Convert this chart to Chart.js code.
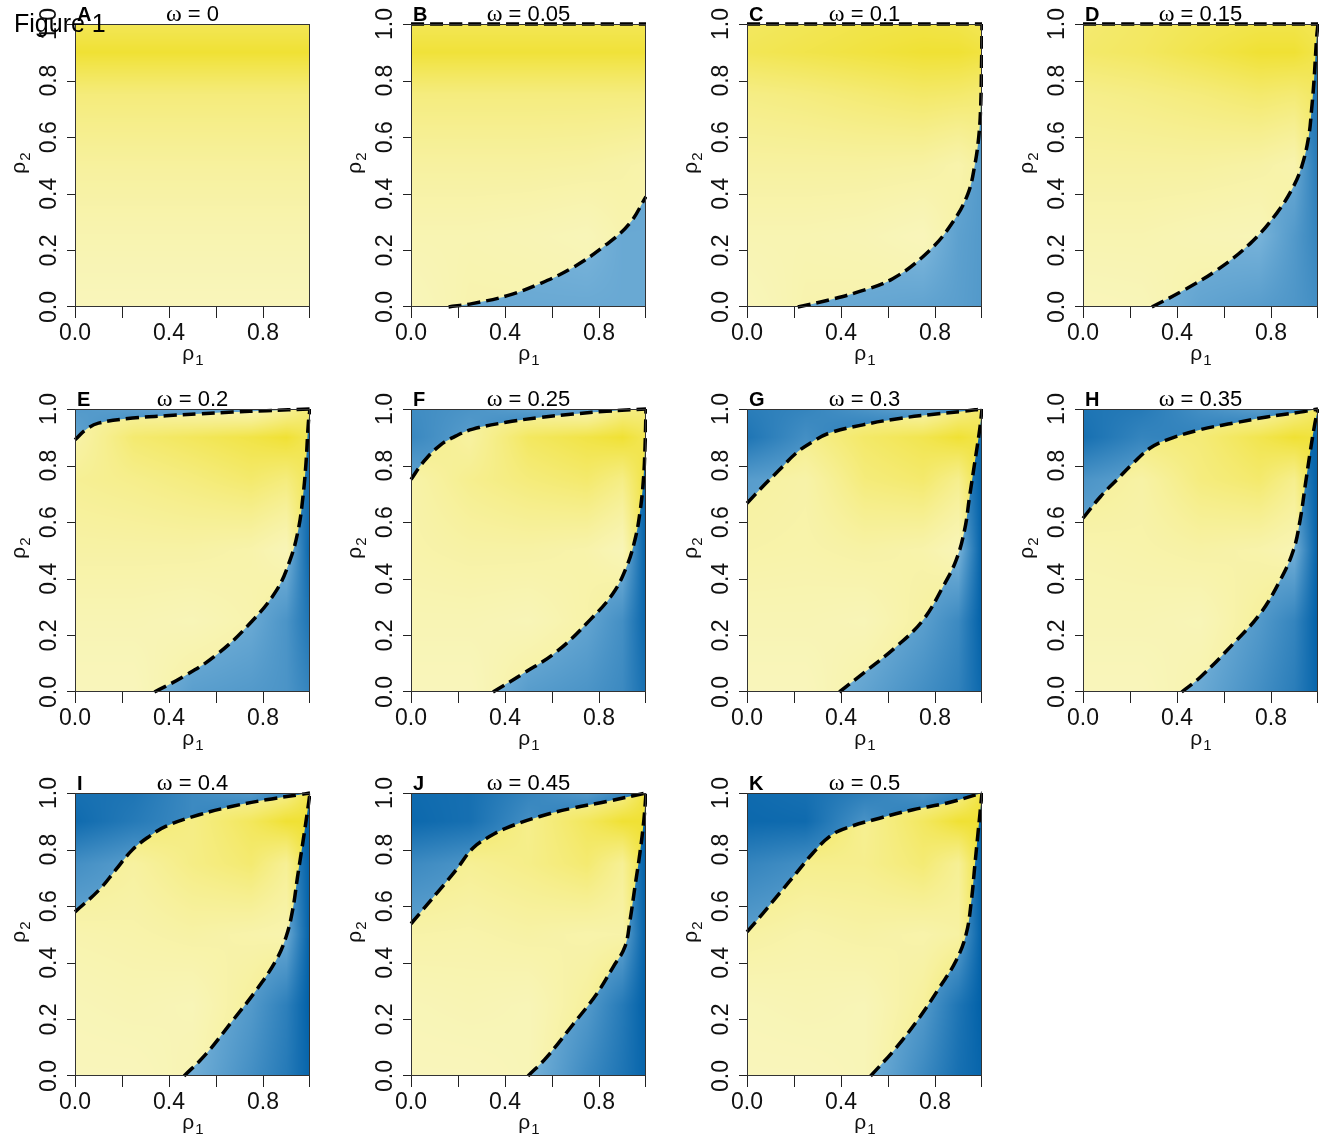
<!DOCTYPE html>
<html>
<head>
<meta charset="utf-8">
<title>Figure 1</title>
<script src="https://cdn.jsdelivr.net/npm/chart.js@4.4.0/dist/chart.umd.min.js"></script>
<style>
  html, body { margin: 0; padding: 0; background: #fff; overflow: hidden; }
  #page { position: relative; width: 1319px; height: 1143px; overflow: hidden; }
  .panel { position: absolute; }
  #figlabel { position: absolute; left: 14px; top: 11px; font: 25px "Liberation Sans", Arial, sans-serif; line-height: 25px; color: #000; z-index: 5; }
</style>
</head>
<body>
<div id="page"><div id="figlabel">Figure 1</div></div>
<script>
// axis ticks
const xTickValues = [0, 0.2, 0.4, 0.6, 0.8, 1];
const xTickLabels = ['0.0', '', '0.4', '', '0.8', ''];
const yTickValues = [0, 0.2, 0.4, 0.6, 0.8, 1];
const yTickLabels = ['0.0', '0.2', '0.4', '0.6', '0.8', '1.0'];

const panelLetters = ['A', 'B', 'C', 'D', 'E', 'F', 'G', 'H', 'I', 'J', 'K'];
const omegaLabels = ['0', '0.05', '0.1', '0.15', '0.2', '0.25', '0.3', '0.35', '0.4', '0.45', '0.5'];

// knots of the shading grids (columns = rho1, rows = rho2 from top to bottom)
const rho1Knots = [0, 0.25, 0.5, 0.75, 0.9, 1];
const rho2Knots = [1, 0.9, 0.75, 0.5, 0.25, 0];

// shading intensity (yellow strength inside, blue depth outside)
const fieldA = [
  [0.85, 0.85, 0.85, 0.85, 0.85, 0.85],
  [1, 1, 1, 1, 1, 1],
  [0.66, 0.66, 0.66, 0.66, 0.66, 0.66],
  [0.44, 0.44, 0.44, 0.44, 0.44, 0.44],
  [0.28, 0.28, 0.28, 0.28, 0.28, 0.28],
  [0.15, 0.15, 0.15, 0.15, 0.15, 0.15]
];
const fieldB = [
  [0.85, 0.85, 0.85, 0.85, 0.85, 0.85],
  [0.98, 0.98, 0.98, 0.98, 0.98, 0.98],
  [0.64, 0.64, 0.64, 0.64, 0.64, 0.64],
  [0.42, 0.42, 0.42, 0.4, 0.36, 0.33],
  [0.26, 0.26, 0.23, 0.18, 0.3, 0.3],
  [0.15, 0.3, 0.3, 0.3, 0.3, 0.3]
];
const fieldC = [
  [0.8, 0.85, 0.9, 0.92, 0.9, 0.85],
  [0.85, 0.9, 0.95, 1, 1, 0.95],
  [0.6, 0.64, 0.7, 0.76, 0.74, 0.7],
  [0.42, 0.42, 0.42, 0.4, 0.32, 0.45],
  [0.26, 0.26, 0.23, 0.15, 0.38, 0.45],
  [0.15, 0.3, 0.32, 0.36, 0.4, 0.45]
];
const fieldD = [
  [0.72, 0.78, 0.85, 0.9, 0.9, 0.85],
  [0.75, 0.8, 0.9, 1, 1, 0.9],
  [0.56, 0.6, 0.66, 0.74, 0.7, 0.8],
  [0.42, 0.42, 0.42, 0.38, 0.3, 0.75],
  [0.28, 0.28, 0.23, 0.2, 0.45, 0.65],
  [0.15, 0.18, 0.35, 0.42, 0.48, 0.55]
];
const fieldE = [
  [0.45, 0.4, 0.32, 0.28, 0.5, 0.7],
  [0.35, 0.72, 0.82, 0.92, 1, 0.85],
  [0.5, 0.56, 0.64, 0.74, 0.65, 0.85],
  [0.38, 0.38, 0.38, 0.33, 0.2, 0.95],
  [0.24, 0.24, 0.2, 0.3, 0.5, 0.8],
  [0.14, 0.14, 0.4, 0.45, 0.5, 0.65]
];
const fieldF = [
  [0.58, 0.5, 0.4, 0.3, 0.6, 0.65],
  [0.62, 0.42, 0.8, 0.92, 1, 0.85],
  [0.35, 0.54, 0.66, 0.74, 0.6, 0.95],
  [0.33, 0.38, 0.38, 0.33, 0.2, 1],
  [0.24, 0.24, 0.2, 0.35, 0.55, 0.95],
  [0.14, 0.14, 0.42, 0.5, 0.6, 0.85]
];
const fieldG = [
  [0.72, 0.65, 0.5, 0.35, 0.6, 0.75],
  [0.8, 0.55, 0.76, 0.88, 1, 0.9],
  [0.42, 0.36, 0.66, 0.74, 0.55, 1],
  [0.35, 0.33, 0.38, 0.33, 0.2, 1],
  [0.24, 0.24, 0.2, 0.4, 0.6, 1],
  [0.14, 0.14, 0.35, 0.55, 0.68, 0.92]
];
const fieldH = [
  [0.8, 0.75, 0.55, 0.4, 0.6, 0.8],
  [0.85, 0.65, 0.68, 0.88, 1, 0.95],
  [0.5, 0.38, 0.64, 0.74, 0.55, 1],
  [0.3, 0.33, 0.38, 0.33, 0.25, 1],
  [0.24, 0.24, 0.2, 0.45, 0.65, 1],
  [0.14, 0.14, 0.3, 0.55, 0.72, 0.95]
];
const fieldI = [
  [0.85, 0.8, 0.6, 0.45, 0.6, 0.9],
  [0.9, 0.75, 0.6, 0.82, 1, 1],
  [0.55, 0.42, 0.6, 0.72, 0.5, 1],
  [0.3, 0.33, 0.38, 0.33, 0.3, 1],
  [0.2, 0.24, 0.2, 0.45, 0.7, 1],
  [0.14, 0.14, 0.25, 0.55, 0.75, 0.95]
];
const fieldJ = [
  [0.9, 0.85, 0.65, 0.45, 0.6, 0.95],
  [0.92, 0.85, 0.56, 0.82, 1, 1],
  [0.6, 0.5, 0.58, 0.72, 0.5, 1],
  [0.35, 0.33, 0.38, 0.33, 0.35, 1],
  [0.2, 0.24, 0.2, 0.45, 0.75, 1],
  [0.14, 0.14, 0.2, 0.6, 0.8, 0.95]
];
const fieldK = [
  [0.9, 0.85, 0.7, 0.5, 0.6, 0.95],
  [0.92, 0.9, 0.52, 0.8, 1, 1],
  [0.65, 0.55, 0.55, 0.7, 0.5, 1],
  [0.4, 0.33, 0.38, 0.33, 0.4, 1],
  [0.2, 0.24, 0.2, 0.45, 0.8, 1],
  [0.14, 0.14, 0.2, 0.6, 0.85, 0.95]
];

// dashed boundaries [rho1, rho2]
const lowerB = [[0.16, 0], [0.26, 0.012], [0.41, 0.04], [0.55, 0.083], [0.69, 0.14], [0.83, 0.22], [0.93, 0.295], [1, 0.39]];
const upperB = [[0, 1], [1, 1]];
const lowerC = [[0.216, 0], [0.35, 0.025], [0.46, 0.05], [0.62, 0.1], [0.777, 0.2], [0.876, 0.3], [0.94, 0.4], [0.969, 0.5], [0.986, 0.6], [0.994, 0.7], [0.998, 0.85], [1, 1]];
const upperC = [[0, 1], [1, 1]];
const lowerD = [[0.293, 0], [0.428, 0.059], [0.569, 0.13], [0.711, 0.224], [0.824, 0.331], [0.895, 0.425], [0.932, 0.5], [0.96, 0.6], [0.973, 0.7], [0.983, 0.8], [0.994, 0.95], [1, 1]];
const upperD = [[0, 1], [1, 1]];
const lowerE = [[0.338, 0], [0.459, 0.053], [0.6, 0.13], [0.744, 0.242], [0.858, 0.36], [0.915, 0.466], [0.95, 0.573], [0.97, 0.69], [0.983, 0.81], [0.993, 0.95], [1, 1]];
const upperE = [[0, 0.891], [0.046, 0.927], [0.1, 0.95], [0.245, 0.968], [0.387, 0.976], [0.53, 0.983], [0.672, 0.989], [0.815, 0.994], [1, 1]];
const lowerF = [[0.349, 0], [0.477, 0.065], [0.619, 0.142], [0.761, 0.254], [0.86, 0.349], [0.918, 0.444], [0.953, 0.538], [0.974, 0.633], [0.989, 0.75], [0.996, 0.87], [1, 1]];
const upperF = [[0, 0.751], [0.05, 0.81], [0.121, 0.87], [0.192, 0.905], [0.263, 0.929], [0.405, 0.953], [0.548, 0.97], [0.69, 0.982], [0.832, 0.992], [1, 1]];
const lowerG = [[0.393, 0], [0.493, 0.065], [0.635, 0.16], [0.749, 0.254], [0.834, 0.372], [0.89, 0.466], [0.926, 0.573], [0.947, 0.69], [0.969, 0.81], [0.99, 0.927], [1, 1]];
const upperG = [[0, 0.667], [0.067, 0.726], [0.138, 0.785], [0.209, 0.844], [0.28, 0.885], [0.351, 0.915], [0.493, 0.944], [0.635, 0.965], [0.777, 0.98], [0.919, 0.992], [1, 1]];
const lowerH = [[0.42, 0], [0.5, 0.053], [0.64, 0.171], [0.754, 0.277], [0.839, 0.395], [0.895, 0.5], [0.924, 0.608], [0.945, 0.726], [0.966, 0.844], [0.987, 0.95], [1, 1]];
const upperH = [[0, 0.614], [0.074, 0.69], [0.144, 0.75], [0.215, 0.81], [0.286, 0.862], [0.357, 0.891], [0.499, 0.927], [0.64, 0.95], [0.782, 0.972], [0.924, 0.989], [1, 1]];
const lowerI = [[0.464, 0], [0.557, 0.077], [0.67, 0.195], [0.77, 0.302], [0.855, 0.408], [0.898, 0.491], [0.926, 0.586], [0.947, 0.704], [0.969, 0.822], [0.99, 0.94], [1, 1]];
const upperI = [[0, 0.58], [0.102, 0.657], [0.173, 0.728], [0.244, 0.799], [0.315, 0.846], [0.386, 0.882], [0.528, 0.923], [0.67, 0.953], [0.813, 0.976], [0.955, 0.994], [1, 1]];
const lowerJ = [[0.498, 0], [0.576, 0.065], [0.69, 0.183], [0.79, 0.29], [0.86, 0.385], [0.91, 0.456], [0.932, 0.55], [0.953, 0.669], [0.974, 0.787], [0.991, 0.905], [1, 1]];
const upperJ = [[0, 0.538], [0.121, 0.657], [0.192, 0.728], [0.263, 0.805], [0.334, 0.846], [0.405, 0.876], [0.548, 0.917], [0.69, 0.947], [0.832, 0.97], [1, 1]];
const lowerK = [[0.526, 0], [0.635, 0.1], [0.734, 0.207], [0.82, 0.314], [0.89, 0.408], [0.933, 0.503], [0.955, 0.621], [0.969, 0.74], [0.983, 0.858], [1, 1]];
const upperK = [[0, 0.509], [0.067, 0.574], [0.138, 0.645], [0.209, 0.716], [0.28, 0.787], [0.351, 0.846], [0.422, 0.876], [0.564, 0.911], [0.706, 0.941], [0.848, 0.964], [1, 1]];

const fields = [fieldA, fieldB, fieldC, fieldD, fieldE, fieldF, fieldG, fieldH, fieldI, fieldJ, fieldK];
const lowers = [null, lowerB, lowerC, lowerD, lowerE, lowerF, lowerG, lowerH, lowerI, lowerJ, lowerK];
const uppers = [null, upperB, upperC, upperD, upperE, upperF, upperG, upperH, upperI, upperJ, upperK];

// colour ramps
const yellowPale = [249, 246, 192], yellowDeep = [240, 225, 52];
const bluePale = [150, 200, 230], blueDeep = [0, 96, 168];

const SANS = '"Liberation Sans", Arial, sans-serif';
const SERIF = '"Liberation Serif", "Times New Roman", serif';

function sampleField(grid, x, y) {
  let i = 0;
  while (i < rho1Knots.length - 2 && x > rho1Knots[i + 1]) i++;
  let j = 0;
  while (j < rho2Knots.length - 2 && y < rho2Knots[j + 1]) j++;
  const tx = Math.min(1, Math.max(0, (x - rho1Knots[i]) / (rho1Knots[i + 1] - rho1Knots[i])));
  const ty = Math.min(1, Math.max(0, (rho2Knots[j] - y) / (rho2Knots[j] - rho2Knots[j + 1])));
  const a = grid[j][i], b = grid[j][i + 1], c = grid[j + 1][i], d = grid[j + 1][i + 1];
  return (a * (1 - tx) + b * tx) * (1 - ty) + (c * (1 - tx) + d * tx) * ty;
}

function mix(c0, c1, t) {
  return [0, 1, 2].map(k => Math.round(c0[k] + (c1[k] - c0[k]) * t));
}

function toPoints(pairs) {
  return pairs.map(p => ({ x: p[0], y: p[1] }));
}

// builds the yellow image (drawn under everything) and the blue pattern (used as the fill of the boundaries)
function fieldPlugin(idx) {
  return {
    id: 'field' + idx,
    afterLayout(chart) {
      if (chart.$imgs) return;
      const a = chart.chartArea;
      const xs = chart.scales.x, ys = chart.scales.y;
      const w = Math.round(a.right - a.left), h = Math.round(a.bottom - a.top);
      const yc = document.createElement('canvas'), bc = document.createElement('canvas');
      yc.width = bc.width = w; yc.height = bc.height = h;
      const yctx = yc.getContext('2d'), bctx = bc.getContext('2d');
      const yd = yctx.createImageData(w, h), bd = bctx.createImageData(w, h);
      for (let j = 0; j < h; j++) {
        const yv = ys.getValueForPixel(a.top + j + 0.5);
        for (let i = 0; i < w; i++) {
          const xv = xs.getValueForPixel(a.left + i + 0.5);
          const t = Math.min(1, Math.max(0, sampleField(fields[idx], xv, yv)));
          const cy = mix(yellowPale, yellowDeep, Math.pow(t, 1.7));
          const cb = mix(bluePale, blueDeep, t);
          const o = (j * w + i) * 4;
          yd.data[o] = cy[0]; yd.data[o + 1] = cy[1]; yd.data[o + 2] = cy[2]; yd.data[o + 3] = 255;
          bd.data[o] = cb[0]; bd.data[o + 1] = cb[1]; bd.data[o + 2] = cb[2]; bd.data[o + 3] = 255;
        }
      }
      yctx.putImageData(yd, 0, 0);
      bctx.putImageData(bd, 0, 0);
      // blue pattern aligned to the chart canvas
      const pc = document.createElement('canvas');
      pc.width = chart.width; pc.height = chart.height;
      pc.getContext('2d').drawImage(bc, a.left, a.top);
      chart.$imgs = { yc, pattern: chart.ctx.createPattern(pc, 'no-repeat') };
    },
    beforeDatasetsDraw(chart) {
      const a = chart.chartArea;
      chart.ctx.drawImage(chart.$imgs.yc, a.left, a.top);
    }
  };
}

// R-style frame, ticks, labels and titles
function framePlugin(idx) {
  return {
    id: 'frame' + idx,
    afterDatasetsDraw(chart) {
      const ctx = chart.ctx, a = chart.chartArea;
      const xs = chart.scales.x, ys = chart.scales.y;
      const cx = (a.left + a.right) / 2, cyMid = (a.top + a.bottom) / 2;
      ctx.save();
      ctx.strokeStyle = '#333';
      ctx.lineWidth = 1;
      ctx.strokeRect(a.left + 0.5, a.top + 0.5, a.right - a.left - 1, a.bottom - a.top - 1);

      ctx.strokeStyle = '#222';
      ctx.fillStyle = '#111';
      ctx.font = '23px ' + SANS;
      xTickValues.forEach((v, k) => {
        const px = Math.min(Math.round(xs.getPixelForValue(v)), Math.round(a.right) - 1) + 0.5;
        ctx.beginPath();
        ctx.moveTo(px, a.bottom);
        ctx.lineTo(px, a.bottom + 11);
        ctx.stroke();
        if (xTickLabels[k]) {
          ctx.textAlign = 'center';
          ctx.textBaseline = 'alphabetic';
          ctx.fillText(xTickLabels[k], xs.getPixelForValue(v), a.bottom + 33);
        }
      });
      yTickValues.forEach((v, k) => {
        const py = Math.min(Math.round(ys.getPixelForValue(v)), Math.round(a.bottom) - 1) + 0.5;
        ctx.beginPath();
        ctx.moveTo(a.left, py);
        ctx.lineTo(a.left - 8, py);
        ctx.stroke();
        ctx.save();
        ctx.translate(a.left - 19, ys.getPixelForValue(v));
        ctx.rotate(-Math.PI / 2);
        ctx.textAlign = 'center';
        ctx.textBaseline = 'alphabetic';
        ctx.fillText(yTickLabels[k], 0, 0);
        ctx.restore();
      });

      // axis titles rho1 / rho2
      const drawRho = (sub) => {
        ctx.font = '21px ' + SANS;
        const w1 = ctx.measureText('ρ').width;
        ctx.font = '15px ' + SANS;
        const w2 = ctx.measureText(sub).width;
        const x0 = -(w1 + w2) / 2;
        ctx.textAlign = 'left';
        ctx.textBaseline = 'alphabetic';
        ctx.font = '21px ' + SANS;
        ctx.fillText('ρ', x0, 0);
        ctx.font = '15px ' + SANS;
        ctx.fillText(sub, x0 + w1 + 1, 5);
      };
      ctx.save();
      ctx.translate(cx, a.bottom + 53);
      drawRho('1');
      ctx.restore();
      ctx.save();
      ctx.translate(a.left - 50, cyMid - 2);
      ctx.rotate(-Math.PI / 2);
      drawRho('2');
      ctx.restore();

      // panel letter and omega title
      ctx.fillStyle = '#000';
      ctx.textAlign = 'left';
      ctx.textBaseline = 'alphabetic';
      ctx.font = 'bold 20px ' + SANS;
      ctx.fillText(panelLetters[idx], a.left + 2, a.top - 3);

      ctx.font = '24px ' + SERIF;
      const wo = ctx.measureText('ω').width;
      ctx.font = '22px ' + SANS;
      const rest = ' = ' + omegaLabels[idx];
      const wr = ctx.measureText(rest).width;
      const tx = cx - (wo + wr) / 2;
      ctx.font = '24px ' + SERIF;
      ctx.fillText('ω', tx, a.top - 3);
      ctx.font = '22px ' + SANS;
      ctx.fillText(rest, tx + wo, a.top - 3);
      ctx.restore();
    }
  };
}

const page = document.getElementById('page');
const colLefts = [0, 336, 672, 1008];
const rowTops = [0, 385, 769];

panelLetters.forEach((letter, idx) => {
  const canvas = document.createElement('canvas');
  canvas.className = 'panel';
  canvas.width = 311;
  canvas.height = 385;
  canvas.style.left = colLefts[idx % 4] + 'px';
  canvas.style.top = rowTops[Math.floor(idx / 4)] + 'px';
  page.appendChild(canvas);

  const datasets = [];
  [[lowers[idx], 'start'], [uppers[idx], 'end']].forEach(([curve, fillTo]) => {
    if (!curve) return;
    datasets.push({
      data: toPoints(curve),
      showLine: true,
      fill: fillTo,
      backgroundColor: (c) => c.chart.$imgs ? c.chart.$imgs.pattern : 'rgba(0,0,0,0)',
      borderColor: '#000',
      borderWidth: 3.5,
      borderDash: [13, 6],
      borderCapStyle: 'butt',
      pointRadius: 0,
      tension: 0.4,
      clip: 5
    });
  });

  new Chart(canvas, {
    type: 'scatter',
    data: { datasets },
    options: {
      responsive: false,
      animation: false,
      events: [],
      layout: { autoPadding: false, padding: { left: 75, top: 24, right: 1, bottom: 78 } },
      scales: {
        x: { type: 'linear', min: 0, max: 1, display: false },
        y: { type: 'linear', min: 0, max: 1, display: false }
      },
      plugins: { legend: { display: false }, tooltip: { enabled: false } }
    },
    plugins: [fieldPlugin(idx), framePlugin(idx)]
  });
});
</script>
</body>
</html>
